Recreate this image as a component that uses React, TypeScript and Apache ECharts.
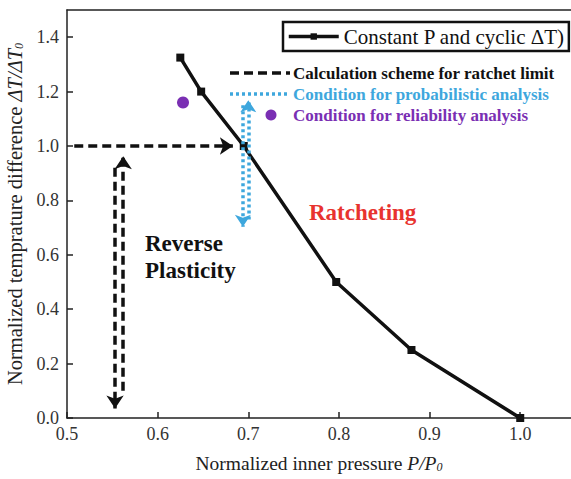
import React, { useEffect, useRef } from "react";
import * as echarts from "echarts";

// Main curve: normalized inner pressure vs normalized temperature difference
const pressure = [0.625, 0.648, 0.695, 0.797, 0.88, 1.0];
const tempDiff = [1.325, 1.2, 1.0, 0.5, 0.25, 0.0];

// Reliability analysis condition point
const reliabilityPoint = [0.628, 1.16];

// Ratchet-limit calculation scheme arrows (black dashed): [x1, y1, x2, y2]
const ratchetArrows = [
  [0.508, 1.0, 0.683, 1.0],
  [0.562, 0.1, 0.562, 0.962],
  [0.553, 0.92, 0.553, 0.035],
];

// Probabilistic analysis condition arrows (blue dotted)
const probArrows = [
  [0.7, 0.73, 0.7, 1.168],
  [0.694, 1.15, 0.694, 0.703],
];

const xTicks = { min: 0.5, max: 1.056, interval: 0.1 };
const yTicks = { min: 0, max: 1.5, interval: 0.2 };

const FONT = '"Liberation Serif", "Times New Roman", serif';
const BLUE = "#3ea7dd";
const PURPLE = "#7a2fb3";
const RED = "#e8332f";

export default function App() {
  const ref = useRef<HTMLDivElement>(null);
  useEffect(() => {
    if (!ref.current) return;
    const chart = echarts.init(ref.current, undefined, { renderer: "svg" });
    const seriesName = "Constant P and cyclic ΔT)";
    const nameRich = (size: number) => ({
      a: { fontFamily: FONT, fontSize: size, color: "#222" },
      i: { fontFamily: FONT, fontSize: size, color: "#222", fontStyle: "italic" },
      s: { fontFamily: FONT, fontSize: Math.round(size * 0.6), color: "#222", fontStyle: "italic", padding: [8, 0, 0, 0] },
    });
    const option: any = {
      animation: false,
      backgroundColor: "#fff",
      textStyle: { fontFamily: FONT },
      grid: { left: 67, top: 10, right: 0, bottom: 61, containLabel: false, outerBoundsMode: "none" },
      legend: {
        data: [{ name: seriesName }],
        left: 283,
        top: 22,
        itemWidth: 50,
        itemHeight: 8,
        padding: [4, 4, 4, 4],
        borderWidth: 2.5,
        borderColor: "#111",
        lineStyle: { width: 3.5, color: "#111" },
        textStyle: { fontFamily: FONT, fontSize: 21, color: "#111" },
      },
      xAxis: [
        {
          type: "value",
          min: xTicks.min,
          max: xTicks.max,
          interval: xTicks.interval,
          name: "{a|Normalized inner pressure }{i|P/P}{s|0}",
          nameLocation: "middle",
          nameGap: 35,
          nameTextStyle: { rich: nameRich(19.5) },
          axisLine: { show: true, lineStyle: { color: "#222", width: 1.5 } },
          axisTick: { show: true, inside: true, length: 6, lineStyle: { color: "#222", width: 1.5 } },
          axisLabel: {
            fontFamily: FONT,
            fontSize: 18,
            color: "#333",
            margin: 7,
            showMaxLabel: false,
            formatter: (v: number) => (Math.abs(v - xTicks.max) < 1e-6 ? "" : v.toFixed(1)),
          },
          splitLine: { show: false },
        },
        {
          type: "value",
          position: "top",
          min: xTicks.min,
          max: xTicks.max,
          axisLine: { show: true, lineStyle: { color: "#222", width: 1.5 } },
          axisTick: { show: false },
          axisLabel: { show: false },
          splitLine: { show: false },
        },
      ],
      yAxis: {
        type: "value",
        min: yTicks.min,
        max: yTicks.max,
        interval: yTicks.interval,
        name: "{a|Normalized temprature difference }{i|ΔT/ΔT}{s|0}",
        nameLocation: "middle",
        nameGap: 32,
        nameTextStyle: { rich: nameRich(20.5) },
        axisLine: { show: true, lineStyle: { color: "#222", width: 1.5 } },
        axisTick: { show: true, inside: true, length: 6, lineStyle: { color: "#222", width: 1.5 } },
        axisLabel: {
          fontFamily: FONT,
          fontSize: 18,
          color: "#333",
          margin: 8,
          showMaxLabel: false,
          formatter: (v: number) => (Math.abs(v - yTicks.max) < 1e-6 ? "" : v.toFixed(1)),
        },
        splitLine: { show: false },
      },
      series: [
        {
          name: "ratchet",
          type: "lines",
          coordinateSystem: "cartesian2d",
          symbol: ["none", "arrow"],
          symbolSize: 13,
          lineStyle: { color: "#111", width: 3.5, type: [9, 5], opacity: 1 },
          data: ratchetArrows.map((a) => ({ coords: [[a[0], a[1]], [a[2], a[3]]] })),
          z: 3,
        },
        {
          name: "prob",
          type: "lines",
          coordinateSystem: "cartesian2d",
          symbol: ["none", "arrow"],
          symbolSize: 12,
          lineStyle: { color: BLUE, width: 3.5, type: [3, 3], opacity: 1 },
          data: probArrows.map((a) => ({ coords: [[a[0], a[1]], [a[2], a[3]]] })),
          z: 5,
        },
        {
          name: seriesName,
          type: "line",
          data: pressure.map((p, i) => [p, tempDiff[i]]),
          symbol: "rect",
          symbolSize: 8,
          lineStyle: { color: "#111", width: 3.5 },
          itemStyle: { color: "#111" },
          z: 4,
        },
        {
          name: "reliability",
          type: "scatter",
          data: [reliabilityPoint],
          symbol: "circle",
          symbolSize: 12,
          itemStyle: { color: PURPLE, opacity: 1 },
        },
      ],
      graphic: [
        { type: "line", shape: { x1: 230, y1: 73, x2: 290, y2: 73 }, style: { stroke: "#111", lineWidth: 3.5, lineDash: [9, 5] } },
        { type: "text", x: 293, y: 73, style: { text: "Calculation scheme for ratchet limit", fill: "#111", font: `bold 17px ${FONT}`, verticalAlign: "middle" } },
        { type: "line", shape: { x1: 230, y1: 94, x2: 290, y2: 94 }, style: { stroke: BLUE, lineWidth: 3.5, lineDash: [3, 3] } },
        { type: "text", x: 293, y: 94, style: { text: "Condition for probabilistic analysis", fill: BLUE, font: `bold 17px ${FONT}`, verticalAlign: "middle" } },
        { type: "circle", shape: { cx: 271, cy: 115, r: 5.5 }, style: { fill: PURPLE } },
        { type: "text", x: 293, y: 115, style: { text: "Condition for reliability analysis", fill: PURPLE, font: `bold 17px ${FONT}`, verticalAlign: "middle" } },
        { type: "text", x: 309, y: 212, style: { text: "Ratcheting", fill: RED, font: `bold 23px ${FONT}`, verticalAlign: "middle" } },
        { type: "text", x: 145, y: 243, style: { text: "Reverse", fill: "#111", font: `bold 23px ${FONT}`, verticalAlign: "middle" } },
        { type: "text", x: 145, y: 270, style: { text: "Plasticity", fill: "#111", font: `bold 23px ${FONT}`, verticalAlign: "middle" } },
      ],
    };
    chart.setOption(option);
    return () => chart.dispose();
  }, []);
  return (
    <div
      ref={ref}
      style={{ position: "fixed", left: 0, top: 0, width: 571, height: 479 }}
    />
  );
}
